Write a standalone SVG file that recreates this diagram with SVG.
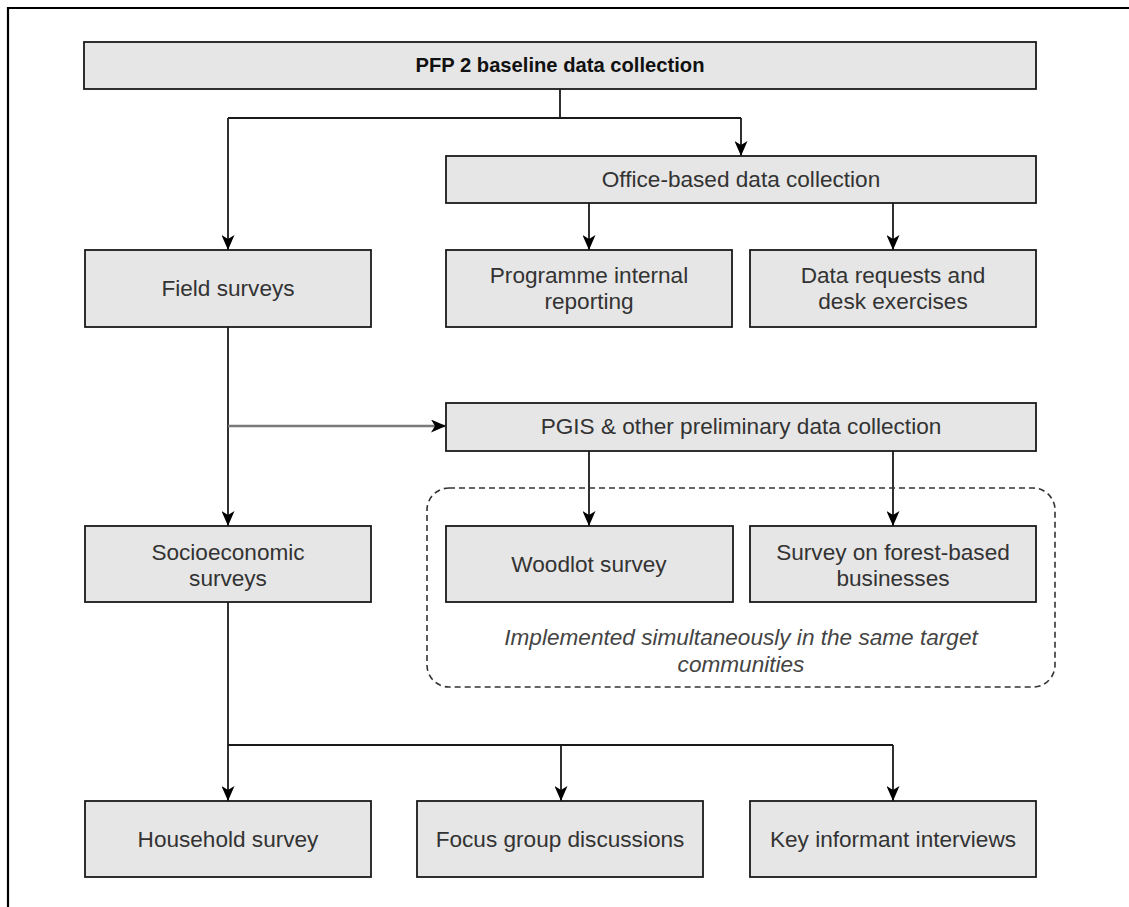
<svg xmlns="http://www.w3.org/2000/svg" width="1129" height="907" viewBox="0 0 1129 907">
<defs>
<style>
.box{fill:#e6e6e6;stroke:#1a1a1a;stroke-width:1.8}
.t{font-family:"Liberation Sans",Arial,sans-serif;font-size:22.6px;fill:#333;text-anchor:middle}
.b{font-weight:bold;font-size:20.2px;fill:#111}
.i{font-style:italic;fill:#444;font-size:22.6px}
.ln{fill:none;stroke:#1a1a1a;stroke-width:1.8}
.gray{stroke:#7a7a7a;stroke-width:2.4}
</style>
<marker id="arr" viewBox="0 0 15 13" markerWidth="15" markerHeight="13" refX="15" refY="6.5" orient="auto" markerUnits="userSpaceOnUse">
<path d="M0,0 L15,6.5 L0,13 L4,6.5 Z" fill="#000"/>
</marker>
</defs>
<rect width="1129" height="907" fill="#fff"/>
<path d="M8,907 L8,8 L1129,8" fill="none" stroke="#000" stroke-width="2.2"/>
<g id="connectors">
<path class="ln" d="M560,89 L560,118"/>
<path class="ln" d="M228,118 L741,118"/>
<path class="ln" d="M228,118 L228,250" marker-end="url(#arr)"/>
<path class="ln" d="M741,118 L741,156" marker-end="url(#arr)"/>
<path class="ln" d="M589,203 L589,250" marker-end="url(#arr)"/>
<path class="ln" d="M893,203 L893,250" marker-end="url(#arr)"/>
<path class="ln" d="M228,327 L228,526" marker-end="url(#arr)"/>
<path class="ln gray" d="M228,426 L446,426" marker-end="url(#arr)"/>
<path class="ln" d="M589,451 L589,526" marker-end="url(#arr)"/>
<path class="ln" d="M893,451 L893,526" marker-end="url(#arr)"/>
<path class="ln" d="M228,602 L228,801" marker-end="url(#arr)"/>
<path class="ln" d="M228,745 L893,745"/>
<path class="ln" d="M561,745 L561,801" marker-end="url(#arr)"/>
<path class="ln" d="M893,745 L893,801" marker-end="url(#arr)"/>
</g>
<g id="group-simultaneous">
<rect x="427" y="488" width="628" height="199" rx="22" fill="none" stroke="#333" stroke-width="1.6" stroke-dasharray="6 4"/>
<text class="t i" x="741" y="645">Implemented simultaneously in the same target</text>
<text class="t i" x="741" y="672">communities</text>
</g>
<g id="n-pfp">
<rect class="box" x="84" y="42" width="952" height="47"/>
<text class="t b" x="560" y="72">PFP 2 baseline data collection</text>
</g>
<g id="n-office">
<rect class="box" x="446" y="156" width="590" height="47"/>
<text class="t" x="741" y="187">Office-based data collection</text>
</g>
<g id="n-field">
<rect class="box" x="85" y="250" width="286" height="77"/>
<text class="t" x="228" y="296">Field surveys</text>
</g>
<g id="n-programme">
<rect class="box" x="446" y="250" width="286" height="77"/>
<text class="t" x="589" y="283">Programme internal</text>
<text class="t" x="589" y="309">reporting</text>
</g>
<g id="n-datareq">
<rect class="box" x="750" y="250" width="286" height="77"/>
<text class="t" x="893" y="283">Data requests and</text>
<text class="t" x="893" y="309">desk exercises</text>
</g>
<g id="n-pgis">
<rect class="box" x="446" y="403" width="590" height="48"/>
<text class="t" x="741" y="434">PGIS &amp; other preliminary data collection</text>
</g>
<g id="n-socio">
<rect class="box" x="85" y="526" width="286" height="76"/>
<text class="t" x="228" y="560">Socioeconomic</text>
<text class="t" x="228" y="586">surveys</text>
</g>
<g id="n-woodlot">
<rect class="box" x="446" y="526" width="287" height="76"/>
<text class="t" x="589" y="572">Woodlot survey</text>
</g>
<g id="n-forest">
<rect class="box" x="750" y="526" width="286" height="76"/>
<text class="t" x="893" y="560">Survey on forest-based</text>
<text class="t" x="893" y="586">businesses</text>
</g>
<g id="n-household">
<rect class="box" x="85" y="801" width="286" height="76"/>
<text class="t" x="228" y="847">Household survey</text>
</g>
<g id="n-focus">
<rect class="box" x="417" y="801" width="286" height="76"/>
<text class="t" x="560" y="847">Focus group discussions</text>
</g>
<g id="n-key">
<rect class="box" x="750" y="801" width="286" height="76"/>
<text class="t" x="893" y="847">Key informant interviews</text>
</g>
</svg>
